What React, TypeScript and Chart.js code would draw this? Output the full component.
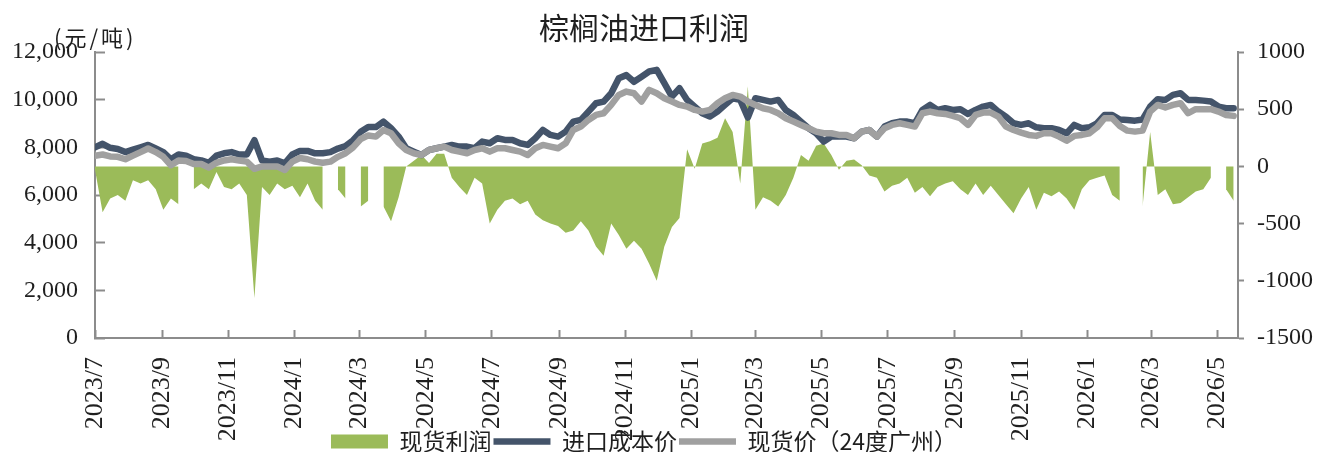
import React, { useEffect, useRef } from 'react';
import { Chart, registerables } from 'chart.js';

Chart.register(...registerables);

// ---- data (weekly samples starting 2023-07-01) ----
const startDate = '2023-07-01';
const stepDays = 7;
const endDate = '2026-05-20';

const costPrice = [
  8000, 8150, 7980, 7930, 7800, 7900, 8000, 8100, 7950, 7800,
  7500, 7700, 7650, 7500, 7450, 7350, 7650, 7750, 7800, 7700,
  7700, 8300, 7450, 7400, 7450, 7330, 7700, 7850, 7850, 7750,
  7750, 7800, 7950, 8050, 8300, 8650, 8850, 8850, 9080, 8800,
  8450, 7960, 7820, 7680, 7890, 7960, 8030, 8100, 8030, 8030,
  7960, 8240, 8170, 8380, 8310, 8310, 8170, 8100, 8380, 8730,
  8520, 8450, 8660, 9080, 9150, 9500, 9850, 9920, 10270, 10900,
  11030, 10750, 10960, 11180, 11250, 10690, 10130, 10480, 9990, 9710,
  9430, 9290, 9500, 9780, 10060, 9990, 9250, 10060, 9990, 9920,
  9990, 9570, 9360, 9080, 8800, 8590, 8240, 8450, 8450, 8450,
  8380, 8660, 8730, 8450, 8870, 9010, 9080, 9080, 9010, 9570,
  9780, 9570, 9640, 9570, 9600, 9400, 9570, 9710, 9780, 9500,
  9290, 9010, 8940, 9010, 8840, 8800, 8800, 8730, 8590, 8940,
  8800, 8840, 9010, 9360, 9360, 9170, 9150, 9120, 9170, 9710,
  10020, 9990, 10200, 10270, 9990, 9990, 9960, 9920, 9710, 9640,
  9640,
];

const spotPrice = [
  7650, 7700, 7620, 7600, 7500, 7650, 7800, 7950, 7800, 7600,
  7250, 7450, 7430, 7300, 7300, 7150, 7350, 7450, 7500, 7450,
  7400, 7100, 7200, 7200, 7200, 7050, 7400, 7550, 7500, 7400,
  7350, 7400, 7600, 7750, 8000, 8350, 8500, 8450, 8730, 8590,
  8170, 7890, 7750, 7680, 7890, 7960, 8030, 7890, 7820, 7750,
  7890, 7960, 7820, 7960, 7960, 7890, 7820, 7680, 7960, 8100,
  8030, 7960, 8170, 8730, 8870, 9150, 9360, 9430, 9780, 10200,
  10340, 10270, 9920, 10410, 10270, 10060, 9920, 9780, 9710, 9570,
  9500, 9570, 9850, 10060, 10200, 10130, 9920, 9780, 9640, 9570,
  9430, 9220, 9080, 8940, 8800, 8660, 8590, 8590, 8520, 8520,
  8380, 8660, 8730, 8450, 8800, 8940, 9010, 8940, 8870, 9430,
  9500, 9430, 9400, 9320, 9220, 8940, 9360, 9460, 9460, 9290,
  8870, 8730, 8620, 8520, 8480, 8590, 8590, 8450, 8280, 8480,
  8520, 8590, 8840, 9220, 9220, 8900, 8700, 8660, 8700, 9500,
  9780, 9670, 9780, 9850, 9430, 9600, 9600, 9600, 9500, 9360,
  9320,
];

const spotProfit: (number | null)[] = [
  -30, -400, -280, -250, -300, -120, -150, -120, -200, -380,
  -280, -330, null, -200, -150, -200, -50, -180, -200, -150,
  -250, -1150, -180, -250, -150, -200, -170, -270, -150, -300,
  -380, null, -200, -280, null, -350, -300, null, -350, -480,
  -270, 0, 50, 100, 30, 110, 110, -100, -180, -250,
  -100, -150, -500, -380, -300, -280, -330, -300, -420, -470,
  -500, -520, -580, -560, -480, -560, -700, -780, -500, -600,
  -720, -650, -720, -850, -1000, -700, -530, -450, 150, -20,
  200, 220, 250, 420, 300, -150, 700, -380, -270, -300,
  -350, -250, -100, 100, 50, 180, 200, 100, -30, 50,
  60, 10, -80, -100, -220, -170, -150, -100, -230, -180,
  -260, -180, -150, -130, -200, -250, -150, -250, -170, -250,
  -330, -410, -280, -180, -380, -230, -260, -220, -280, -380,
  -200, -120, -100, -80, -250, -300, null, null, -350, 300,
  -250, -200, -330, -320, -270, -220, -200, -100, null, -200,
  -300,
];

const xTickLabels = [
  '2023/7', '2023/9', '2023/11', '2024/1', '2024/3', '2024/5', '2024/7', '2024/9', '2024/11',
  '2025/1', '2025/3', '2025/5', '2025/7', '2025/9', '2025/11', '2026/1', '2026/3', '2026/5',
];
const leftTicksStep = 2000;
const rightTicksStep = 500;

const titleText = '棕榈油进口利润';
const unitText = '(元/吨)';
const seriesNames = ['现货利润', '进口成本价', '现货价（24度广州）'];

// ---- helpers ----
const DAY = 86400000;
const t0 = Date.parse(startDate + 'T00:00:00Z');
const dayOfLabel = (s: string) => {
  const [y, m] = s.split('/').map(Number);
  return (Date.UTC(y, m - 1, 1) - t0) / DAY;
};
const xMax = (Date.parse(endDate + 'T00:00:00Z') - t0) / DAY;
const toPoints = (arr: (number | null)[]) => arr.map((v, i) => ({ x: i * stepDays, y: v }));

const AXIS = '#8c8c8c';
const TEXT = '#1f1f1f';

const unitPlugin = {
  id: 'unitLabel',
  afterDraw(chart: any) {
    const { ctx, chartArea } = chart;
    ctx.save();
    ctx.font = '22px "Noto Sans CJK SC"';
    try {
      (ctx as any).letterSpacing = '3px';
    } catch (e) {
      /* ignore */
    }
    ctx.fillStyle = TEXT;
    ctx.textBaseline = 'middle';
    ctx.textAlign = 'left';
    ctx.fillText(unitText, chartArea.left - 41, chartArea.top - 14);
    ctx.restore();
  },
};

// move the legend a bit lower and let axis labels use the space outside their boxes
const layoutTweakPlugin = {
  id: 'layoutTweak',
  afterLayout(chart: any) {
    const l = chart.legend;
    if (l) {
      l.top += 11;
      l.bottom += 11;
    }
    const sx = chart.scales.x;
    if (sx) sx.bottom = chart.height;
    const sr = chart.scales.y2;
    if (sr) sr.right = chart.width;
  },
};

export default function App() {
  const ref = useRef<HTMLCanvasElement | null>(null);

  useEffect(() => {
    if (!ref.current) return;
    const chart = new Chart(ref.current, {
      type: 'line',
      data: {
        datasets: [
          {
            label: seriesNames[0],
            data: toPoints(spotProfit),
            yAxisID: 'y2',
            fill: 'origin',
            backgroundColor: '#9BBB59',
            borderColor: '#9BBB59',
            borderWidth: 0,
            pointRadius: 0,
            tension: 0,
            spanGaps: false,
            order: 3,
            pointStyle: 'rect',
          } as any,
          {
            label: seriesNames[1],
            data: toPoints(costPrice),
            yAxisID: 'y',
            fill: false,
            borderColor: '#44546A',
            backgroundColor: '#44546A',
            borderWidth: 6.5,
            pointRadius: 0,
            tension: 0,
            order: 2,
            pointStyle: 'line',
            borderCapStyle: 'round',
            borderJoinStyle: 'round',
          } as any,
          {
            label: seriesNames[2],
            data: toPoints(spotPrice),
            yAxisID: 'y',
            fill: false,
            borderColor: '#A0A0A0',
            backgroundColor: '#A0A0A0',
            borderWidth: 6.5,
            pointRadius: 0,
            tension: 0,
            order: 1,
            pointStyle: 'line',
            borderCapStyle: 'round',
            borderJoinStyle: 'round',
          } as any,
        ],
      },
      options: {
        animation: false,
        responsive: false,
        maintainAspectRatio: false,
        events: [],
        layout: { padding: { left: 0, right: 29, top: 0, bottom: 0 } },
        plugins: {
          title: {
            display: true,
            text: titleText,
            color: TEXT,
            font: { family: '"Noto Sans CJK SC"', size: 30, weight: 'normal', lineHeight: 1.2 },
            padding: { top: 10, bottom: 6 },
          },
          legend: {
            position: 'bottom',
            labels: {
              usePointStyle: true,
              pointStyleWidth: 57,
              boxHeight: 14,
              padding: 2,
              color: TEXT,
              font: { family: '"Noto Sans CJK SC"', size: 23 },
              sort: (a: any, b: any) => a.datasetIndex - b.datasetIndex,
            },
          },
          tooltip: { enabled: false },
        },
        scales: {
          x: {
            type: 'linear',
            min: 0,
            max: xMax,
            afterBuildTicks: (s: any) => {
              s.ticks = xTickLabels.map((l) => ({ value: dayOfLabel(l) }));
            },
            afterFit: (s: any) => {
              s.height = 79;
            },
            ticks: {
              autoSkip: false,
              minRotation: 90,
              maxRotation: 90,
              padding: 27,
              color: TEXT,
              font: { family: '"Liberation Serif"', size: 26 },
              callback: (_v: any, i: number) => xTickLabels[i],
            },
            grid: { drawOnChartArea: false, drawTicks: true, tickLength: -8, tickWidth: 2, tickColor: AXIS },
            border: { display: true, color: AXIS, width: 2 },
          },
          y: {
            position: 'left',
            min: 0,
            max: 12000,
            afterFit: (s: any) => {
              s.width = 95;
            },
            ticks: {
              stepSize: leftTicksStep,
              padding: 27,
              color: TEXT,
              font: { family: '"Liberation Serif"', size: 24 },
              callback: (v: any) => Number(v).toLocaleString('en-US'),
            },
            grid: { drawOnChartArea: false, drawTicks: true, tickLength: -10, tickWidth: 2, tickColor: AXIS },
            border: { display: true, color: AXIS, width: 2 },
          },
          y2: {
            position: 'right',
            min: -1500,
            max: 1000,
            afterFit: (s: any) => {
              s.width = 50;
            },
            ticks: {
              stepSize: rightTicksStep,
              padding: 13,
              color: TEXT,
              font: { family: '"Liberation Serif"', size: 24 },
              callback: (v: any) => String(v),
            },
            grid: { drawOnChartArea: false, drawTicks: true, tickLength: 6, tickWidth: 2, tickColor: AXIS },
            border: { display: true, color: AXIS, width: 2 },
          },
        },
      } as any,
      plugins: [unitPlugin, layoutTweakPlugin],
    });
    return () => chart.destroy();
  }, []);

  return (
    <div style={{ position: 'absolute', left: 0, top: 0, width: 1317, height: 452, background: '#ffffff' }}>
      <canvas ref={ref} width={1317} height={452} style={{ display: 'block' }} />
    </div>
  );
}
